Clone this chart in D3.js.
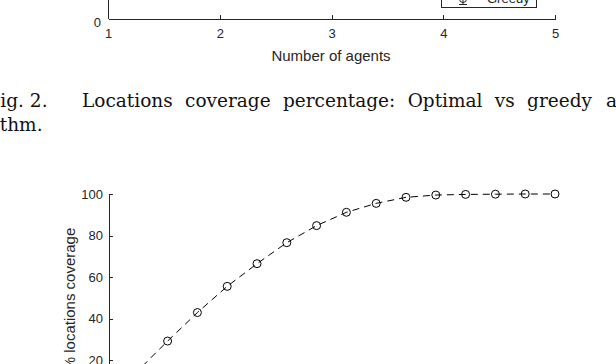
<!DOCTYPE html>
<meta charset="utf-8">
<html>
<head>
<style>
  body { margin: 0; background: #fff; }
  svg { display: block; overflow: hidden; }
  .axis text { font-family: "Liberation Sans", Arial, sans-serif; font-size: 13px; fill: #262626; }
  .axis path, .axis line { stroke: #262626; stroke-width: 1; shape-rendering: crispEdges; }
  .lbl { font-family: "Liberation Sans", Arial, sans-serif; font-size: 15px; fill: #262626; }
  .cap { font-family: "DejaVu Serif", serif; font-size: 18.5px; fill: #111; }
</style>
</head>
<body>
<script src="https://d3js.org/d3.v7.min.js"></script>
<script>

// top panel (only its bottom edge is in view)
var agents = [1, 2, 3, 4, 5];
var topLegend = ["Greedy"];

// bottom panel: coverage curve
var steps = [1, 2, 3, 4, 5, 6, 7, 8, 9, 10, 11, 12, 13, 14, 15, 16];
var coverage = [1, 15, 29.3, 43, 55.6, 66.5, 76.6, 84.8, 91.2, 95.5, 98.4, 99.5, 99.8, 99.9, 100, 100];
var yTicks = [0, 20, 40, 60, 80, 100];

// caption pieces
var captionLine1 = ["Fig. 2.", "Locations coverage percentage: Optimal vs greedy", "algo-"];
var captionLine2 = "rithm.";

var W = 616, H = 364;

var svg = d3.select("body").append("svg")
  .attr("width", W)
  .attr("height", H);

/* ---- top panel ---- */
var xTop = d3.scaleLinear().domain([1, 5]).range([108, 555]);
var yTopBase = 19;

svg.append("g")
  .attr("class", "axis")
  .attr("transform", "translate(0," + yTopBase + ")")
  .call(d3.axisBottom(xTop).tickValues(agents).tickFormat(d3.format("d"))
    .tickSizeInner(-4).tickSizeOuter(0).tickPadding(10));

// y axis stub of the top panel
svg.append("line")
  .attr("x1", 108).attr("x2", 108)
  .attr("y1", -5).attr("y2", yTopBase)
  .attr("stroke", "#262626")
  .attr("shape-rendering", "crispEdges");

svg.append("text")
  .attr("class", "lbl")
  .attr("x", 101).attr("y", 22)
  .attr("dy", "0.35em")
  .style("font-size", "13px")
  .style("text-anchor", "end")
  .text("0");

svg.append("text")
  .attr("class", "lbl")
  .attr("x", 331).attr("y", 61)
  .style("text-anchor", "middle")
  .text("Number of agents");

// legend (cut at the top)
var leg = svg.append("g");
leg.append("rect")
  .attr("x", 441.5).attr("y", -20)
  .attr("width", 95).attr("height", 27.5)
  .attr("fill", "#fff")
  .attr("stroke", "#262626");
leg.append("line")
  .attr("x1", 463).attr("x2", 463).attr("y1", -6).attr("y2", 4)
  .attr("stroke", "#262626");
leg.append("line")
  .attr("x1", 459).attr("x2", 467).attr("y1", 4.5).attr("y2", 4.5)
  .attr("stroke", "#262626");
leg.append("circle")
  .attr("cx", 463).attr("cy", -1).attr("r", 3.5)
  .attr("fill", "none").attr("stroke", "#262626");
leg.selectAll("text.leg").data(topLegend).enter().append("text")
  .attr("class", "lbl leg")
  .attr("x", 487).attr("y", 3)
  .style("font-size", "13px")
  .text(function(d) { return d; });

/* ---- caption ---- */
svg.append("text").attr("class", "cap")
  .attr("x", -12.5).attr("y", 107).text(captionLine1[0]);
var mid = svg.append("text").attr("class", "cap")
  .attr("x", 82).attr("y", 107)
  .text(captionLine1[1]);
// justified line: stretch the spaces so the words end where the reference does
var natural = mid.node().getComputedTextLength();
var nSpaces = captionLine1[1].split(" ").length - 1;
mid.style("word-spacing", Math.max(0, (592 - 82 - natural) / nSpaces) + "px");
svg.append("text").attr("class", "cap")
  .attr("x", 606).attr("y", 107).text(captionLine1[2]);
svg.append("text").attr("class", "cap")
  .attr("x", -15).attr("y", 131).text(captionLine2);

/* ---- bottom panel ---- */
var x = d3.scaleLinear().domain([1, 16]).range([108, 555]);
var y = d3.scaleLinear().domain([0, 100]).range([402, 194]);

svg.append("g")
  .attr("class", "axis")
  .attr("transform", "translate(109,0)")
  .call(d3.axisLeft(y).tickValues(yTicks)
    .tickSizeInner(-4).tickSizeOuter(0).tickPadding(6));

svg.append("text")
  .attr("class", "lbl")
  .attr("transform", "translate(75,299) rotate(-90)")
  .style("text-anchor", "middle")
  .text("% locations coverage");

var pts = steps.map(function(s, i) { return {s: s, v: coverage[i]}; });

svg.append("path")
  .datum(pts)
  .attr("fill", "none")
  .attr("stroke", "#000")
  .attr("stroke-width", 1)
  .attr("stroke-dasharray", "7,5")
  .attr("d", d3.line().x(function(d) { return x(d.s); }).y(function(d) { return y(d.v); }));

svg.selectAll("circle.pt")
  .data(pts)
  .enter().append("circle")
  .attr("class", "pt")
  .attr("cx", function(d) { return x(d.s); })
  .attr("cy", function(d) { return y(d.v); })
  .attr("r", 4)
  .attr("fill", "none")
  .attr("stroke", "#000");

</script>
</body>
</html>
